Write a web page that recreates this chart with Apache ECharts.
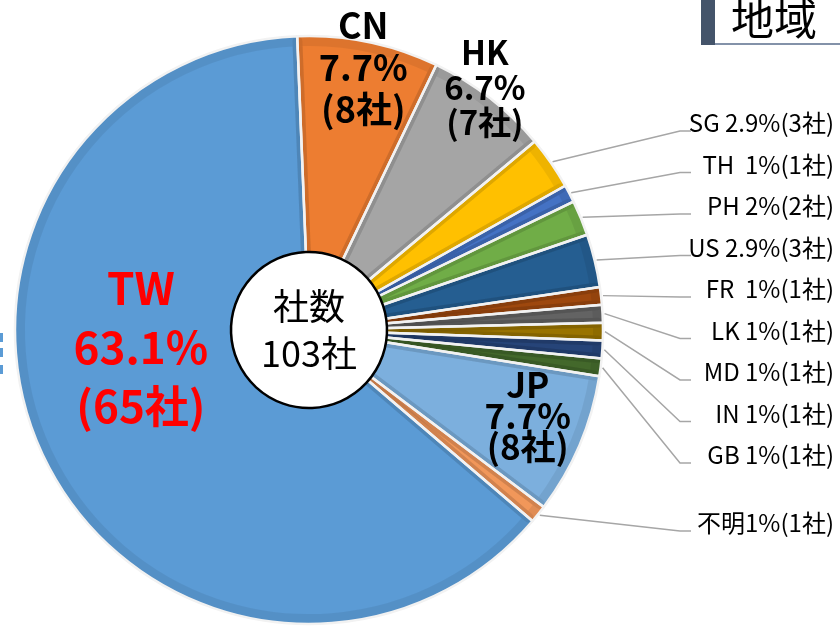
<!DOCTYPE html>
<html>
<head>
<meta charset="utf-8">
<script src="https://cdn.jsdelivr.net/npm/echarts@6/dist/echarts.min.js"></script>
<style>
html, body { margin: 0; padding: 0; background: #fff; }
#main { width: 840px; height: 628px; }
</style>
</head>
<body>
<div id="main"></div>
<script>
// data, clockwise from the top
var regions = ['CN', 'HK', 'SG', 'TH', 'PH', 'US', 'FR', 'LK', 'MD', 'IN', 'GB', 'JP', '不明', 'TW'];
var companies = [8, 7, 3, 1, 2, 3, 1, 1, 1, 1, 1, 8, 1, 65];
var percents = ['7.7%', '6.7%', '2.9%', '1%', '2%', '2.9%', '1%', '1%', '1%', '1%', '1%', '7.7%', '1%', '63.1%'];
var gaps = [' ', ' ', ' ', '  ', ' ', ' ', '  ', ' ', ' ', ' ', ' ', ' ', '', ' '];
var colors = ['#ED7D31', '#A5A5A5', '#FFC000', '#4472C4', '#70AD47', '#255E91', '#9E480E',
              '#636363', '#997300', '#264478', '#43682B', '#7CAFDD', '#F1975A', '#5B9BD5'];
var sideLabels = ['SG', 'TH', 'PH', 'US', 'FR', 'LK', 'MD', 'IN', 'GB'];

var total = companies.reduce(function (a, b) { return a + b; }, 0);
var FONT = "'Noto Sans CJK JP', 'Noto Sans', sans-serif";

var cx = 309, cy = 330, R = 294, tilt = -2.3;
var big = {
    CN: { r: 268, da: 0, size: 36, lh: 42, color: '#000' },
    HK: { r: 300, da: -2, size: 33, lh: 35, color: '#000' },
    JP: { r: 235, da: -1.6, size: 35, lh: 31, color: '#000' },
    TW: { r: 169, da: 20, size: 44, lh: 59, color: '#FF0000' }
};

function midAngle(i) {
    var cum = 0;
    for (var k = 0; k < i; k++) cum += companies[k];
    return tilt + (cum + companies[i] / 2) / total * 360;
}
function polar(r, deg) {
    var a = deg * Math.PI / 180;
    return [cx + r * Math.sin(a), cy - r * Math.cos(a)];
}

var myChart = echarts.init(document.getElementById('main'));

function baseData(extra) {
    return regions.map(function (name, i) {
        var d = { name: name, value: companies[i] };
        if (extra) extra(d, i);
        return d;
    });
}

var fillData = baseData(function (d, i) { d.itemStyle = { color: colors[i] }; });
var labelData = baseData(function (d, i) {
    var b = big[d.name];
    if (b) {
        d.label = { position: 'inside', fontSize: b.size, lineHeight: b.lh, color: b.color, fontWeight: 'bold' };
        d.labelLine = { show: false };
    }
});

var common = {
    type: 'pie',
    center: [cx, cy],
    startAngle: 90 - tilt,
    clockwise: true,
    silent: true,
    animation: false,
    emphasis: { disabled: true }
};

option = {
    animation: false,
    graphic: [
        { type: 'rect', shape: { x: 701, y: 0, width: 14, height: 45 }, style: { fill: '#44546A' } },
        { type: 'line', shape: { x1: 715, y1: 44, x2: 840, y2: 44 }, style: { stroke: '#5A6E8C', lineWidth: 1.5 } },
        { type: 'text', x: 731, y: 19, style: { text: '地域', font: '43px ' + FONT, fill: '#000', verticalAlign: 'middle' } },
        { type: 'rect', shape: { x: 0, y: 333, width: 3, height: 9 }, style: { fill: '#5B9BD5' } },
        { type: 'rect', shape: { x: 0, y: 348, width: 3, height: 9 }, style: { fill: '#5B9BD5' } },
        { type: 'rect', shape: { x: 0, y: 365, width: 3, height: 9 }, style: { fill: '#5B9BD5' } }
    ],
    series: [
        Object.assign({}, common, {
            radius: R,
            label: { show: false },
            labelLine: { show: false },
            data: fillData
        }),
        // bevel-like darker band along every slice edge
        Object.assign({}, common, {
            radius: R - 5,
            label: { show: false },
            labelLine: { show: false },
            itemStyle: { color: 'rgba(0,0,0,0)', borderColor: 'rgba(0,0,0,0.065)', borderWidth: 10, borderJoin: 'round' },
            data: baseData()
        }),
        // white separators + labels
        Object.assign({}, common, {
            radius: R,
            itemStyle: { color: 'rgba(0,0,0,0)', borderColor: '#f2f2f2', borderWidth: 2.5 },
            label: {
                show: true,
                position: 'outside',
                fontFamily: FONT,
                fontSize: 24,
                color: '#000',
                formatter: function (p) {
                    var i = p.dataIndex;
                    if (big[p.name]) return p.name + '\n' + percents[i] + '\n(' + p.value + '社)';
                    return p.name + gaps[i] + percents[i] + '(' + p.value + '社)';
                }
            },
            labelLine: { show: true, lineStyle: { color: '#A6A6A6', width: 1.5 } },
            labelLayout: function (p) {
                var i = p.dataIndex, nm = regions[i];
                var b = big[nm];
                if (b) {
                    var pos = polar(b.r, midAngle(i) + b.da);
                    return { x: pos[0], y: pos[1], align: 'center', verticalAlign: 'middle' };
                }
                var k = sideLabels.indexOf(nm);
                var y = k >= 0 ? 123 + k * 41.5 : 523;
                var start = polar(R + 2, midAngle(i));
                return {
                    x: 834, y: y, align: 'right', verticalAlign: 'middle',
                    labelLinePoints: [start, [680, y + 8], [691, y + 8]]
                };
            },
            data: labelData
        }),
        // centre circle with the total
        Object.assign({}, common, {
            radius: [0, 78],
            itemStyle: { color: '#fff', borderColor: '#000', borderWidth: 2.5 },
            label: {
                show: true,
                position: 'center',
                fontFamily: FONT,
                fontSize: 36,
                lineHeight: 47,
                color: '#000',
                formatter: '社数\n' + total + '社'
            },
            labelLine: { show: false },
            data: [{ name: '社数', value: total }]
        })
    ]
};

myChart.setOption(option);
</script>
</body>
</html>
